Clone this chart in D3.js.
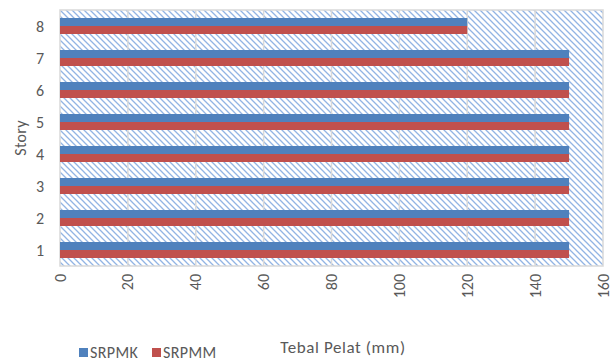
<!DOCTYPE html>
<html>
<head>
<meta charset="utf-8">
<script src="https://cdn.jsdelivr.net/npm/d3@7"></script>
<style>
body { margin: 0; background: #fff; }
text { font-family: Calibri, Carlito, "Open Sans", sans-serif; fill: #595959; }
</style>
</head>
<body>
<svg id="chart" width="616" height="363"></svg>
<script>
var stories = ["1", "2", "3", "4", "5", "6", "7", "8"];
var srpmk = [150, 150, 150, 150, 150, 150, 150, 120];
var srpmm = [150, 150, 150, 150, 150, 150, 150, 120];
var seriesNames = ["SRPMK", "SRPMM"];
var xTicks = [0, 20, 40, 60, 80, 100, 120, 140, 160];

var color = d3.scaleOrdinal().domain(seriesNames).range(["#4f81bd", "#c0504d"]);

var svg = d3.select("svg#chart"),
    margin = { left: 60, right: 13, top: 10, bottom: 97 },
    width = +svg.attr("width") - margin.left - margin.right,
    height = +svg.attr("height") - margin.top - margin.bottom;

var defs = svg.append("defs");
var pat = defs.append("pattern")
    .attr("id", "hatch")
    .attr("patternUnits", "userSpaceOnUse")
    .attr("width", 6)
    .attr("height", 6);
pat.append("rect").attr("width", 6).attr("height", 6).attr("fill", "#fff");
pat.append("path")
    .attr("d", "M-1,-1 L7,7 M-1,5 L1,7 M5,-1 L7,1")
    .attr("stroke", "#92b4e4")
    .attr("stroke-width", 1.3);

var g = svg.append("g").attr("transform", "translate(" + margin.left + "," + margin.top + ")");

var x = d3.scaleLinear().domain([0, 160]).range([0, width]);
var y = d3.scaleBand().domain(stories.slice().reverse()).range([0, height]).paddingInner(0.5).paddingOuter(0.25);
var sub = d3.scaleBand().domain(seriesNames).range([0, y.bandwidth()]);

g.append("rect")
    .attr("width", width)
    .attr("height", height)
    .attr("fill", "url(#hatch)")
    .attr("stroke", "#d9d9d9")
    .attr("stroke-width", 1.5);

g.append("g")
    .selectAll("line")
    .data(xTicks.slice(1, -1))
    .enter().append("line")
    .attr("x1", function(d) { return x(d); })
    .attr("x2", function(d) { return x(d); })
    .attr("y1", 0)
    .attr("y2", height)
    .attr("stroke", "#d9d9d9")
    .attr("stroke-width", 1.5);

var rows = stories.map(function(s, i) {
    return { story: s, values: [{ k: "SRPMK", v: srpmk[i] }, { k: "SRPMM", v: srpmm[i] }] };
});

g.append("g")
    .selectAll("g")
    .data(rows)
    .enter().append("g")
    .attr("transform", function(d) { return "translate(0," + y(d.story) + ")"; })
    .selectAll("rect")
    .data(function(d) { return d.values; })
    .enter().append("rect")
    .attr("x", x(0))
    .attr("y", function(d) { return sub(d.k); })
    .attr("height", sub.bandwidth())
    .attr("width", function(d) { return x(d.v) - x(0); })
    .attr("fill", function(d) { return color(d.k); });

// y axis labels
g.append("g")
    .selectAll("text")
    .data(stories)
    .enter().append("text")
    .attr("x", -20)
    .attr("y", function(d) { return y(d) + y.bandwidth() / 2; })
    .attr("dy", "0.35em")
    .attr("text-anchor", "middle")
    .style("font-size", "16px")
    .text(function(d) { return d; });

// x axis labels, rotated
g.append("g")
    .selectAll("text")
    .data(xTicks)
    .enter().append("text")
    .attr("transform", function(d) { return "translate(" + x(d) + "," + (height + 8) + ") rotate(-90)"; })
    .attr("dy", "0.35em")
    .attr("text-anchor", "end")
    .style("font-size", "16px")
    .text(function(d) { return d; });

svg.append("text")
    .attr("transform", "translate(20," + (margin.top + height / 2) + ") rotate(-90)")
    .attr("text-anchor", "middle")
    .attr("dy", "0.35em")
    .style("font-size", "16px")
    .style("letter-spacing", "0.3px")
    .text("Story");

svg.append("text")
    .attr("x", 343)
    .attr("y", 347)
    .attr("text-anchor", "middle")
    .attr("dy", "0.35em")
    .style("font-size", "17px")
    .style("letter-spacing", "0.6px")
    .text("Tebal Pelat (mm)");

var legend = svg.append("g")
    .selectAll("g")
    .data(seriesNames)
    .enter().append("g")
    .attr("transform", function(d, i) { return "translate(" + (79 + i * 73) + ",352)"; });
legend.append("rect")
    .attr("x", 0).attr("y", -4)
    .attr("width", 9).attr("height", 9)
    .attr("fill", function(d) { return color(d); });
legend.append("text")
    .attr("x", 11)
    .attr("dy", "0.35em")
    .style("font-size", "16px")
    .style("letter-spacing", "0.4px")
    .text(function(d) { return d; });
</script>
</body>
</html>
